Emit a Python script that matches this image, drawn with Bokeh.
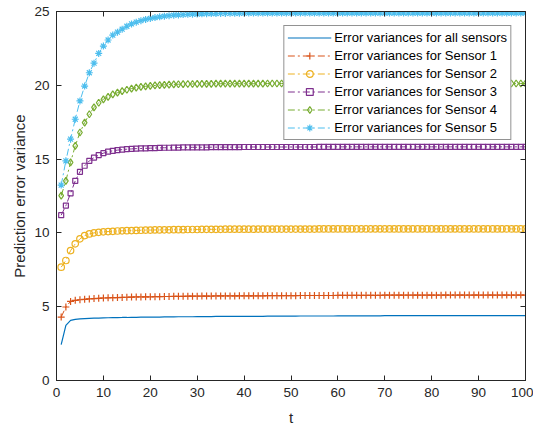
from bokeh.plotting import figure
from bokeh.models import LinearAxis, Legend, LegendItem, FixedTicker, Range1d
from bokeh.embed import file_html
from bokeh.resources import INLINE

t = list(range(1, 101))

all_sensors = [
    2.43, 3.74, 4.07, 4.14, 4.17, 4.19, 4.21, 4.22, 4.23, 4.24,
    4.25, 4.26, 4.26, 4.27, 4.27, 4.28, 4.28, 4.29, 4.29, 4.30,
    4.30, 4.30, 4.31, 4.31, 4.31, 4.32, 4.32, 4.32, 4.32, 4.33,
    4.33, 4.33, 4.33, 4.34, 4.34, 4.34, 4.34, 4.34, 4.35, 4.35,
    4.35, 4.35, 4.35, 4.35, 4.36, 4.36, 4.36, 4.36, 4.36, 4.36,
    4.36, 4.37, 4.37, 4.37, 4.37, 4.37, 4.37, 4.37, 4.37, 4.38,
    4.38, 4.38, 4.38, 4.38, 4.38, 4.38, 4.38, 4.38, 4.38, 4.39,
    4.39, 4.39, 4.39, 4.39, 4.39, 4.39, 4.39, 4.39, 4.39, 4.39,
    4.39, 4.39, 4.40, 4.40, 4.40, 4.40, 4.40, 4.40, 4.40, 4.40,
    4.40, 4.40, 4.40, 4.40, 4.40, 4.40, 4.40, 4.40, 4.40, 4.40,
]

sensor1 = [
    4.30, 4.98, 5.36, 5.43, 5.47, 5.50, 5.53, 5.55, 5.57, 5.59,
    5.60, 5.61, 5.62, 5.63, 5.64, 5.65, 5.66, 5.66, 5.67, 5.67,
    5.68, 5.68, 5.69, 5.69, 5.70, 5.70, 5.70, 5.71, 5.71, 5.71,
    5.72, 5.72, 5.72, 5.73, 5.73, 5.73, 5.73, 5.73, 5.74, 5.74,
    5.74, 5.74, 5.74, 5.74, 5.75, 5.75, 5.75, 5.75, 5.75, 5.75,
    5.75, 5.76, 5.76, 5.76, 5.76, 5.76, 5.76, 5.76, 5.76, 5.77,
    5.77, 5.77, 5.77, 5.77, 5.77, 5.77, 5.77, 5.77, 5.77, 5.78,
    5.78, 5.78, 5.78, 5.78, 5.78, 5.78, 5.78, 5.78, 5.78, 5.78,
    5.78, 5.78, 5.79, 5.79, 5.79, 5.79, 5.79, 5.79, 5.79, 5.79,
    5.79, 5.79, 5.79, 5.79, 5.79, 5.79, 5.79, 5.79, 5.79, 5.79,
]

sensor2 = [
    7.68, 8.13, 8.80, 9.26, 9.60, 9.82, 9.93, 10.00, 10.04, 10.07,
    10.09, 10.11, 10.13, 10.14, 10.15, 10.16, 10.17, 10.18, 10.19, 10.19,
    10.20, 10.20, 10.21, 10.21, 10.22, 10.22, 10.22, 10.23, 10.23, 10.23,
    10.24, 10.24, 10.24, 10.24, 10.24, 10.25, 10.25, 10.25, 10.25, 10.25,
    10.25, 10.25, 10.26, 10.26, 10.26, 10.26, 10.26, 10.26, 10.26, 10.26,
    10.26, 10.26, 10.26, 10.26, 10.26, 10.27, 10.27, 10.27, 10.27, 10.27,
    10.27, 10.27, 10.27, 10.27, 10.27, 10.27, 10.27, 10.27, 10.27, 10.27,
    10.27, 10.27, 10.27, 10.27, 10.27, 10.27, 10.27, 10.27, 10.27, 10.27,
    10.27, 10.27, 10.27, 10.27, 10.27, 10.27, 10.27, 10.27, 10.27, 10.27,
    10.27, 10.27, 10.27, 10.27, 10.27, 10.27, 10.27, 10.27, 10.27, 10.27,
]

sensor3 = [
    11.20, 11.85, 12.68, 13.53, 14.14, 14.55, 14.88, 15.10, 15.27, 15.40,
    15.50, 15.56, 15.61, 15.64, 15.67, 15.69, 15.71, 15.72, 15.73, 15.74,
    15.75, 15.76, 15.77, 15.77, 15.78, 15.78, 15.79, 15.79, 15.80, 15.80,
    15.80, 15.80, 15.81, 15.81, 15.81, 15.81, 15.81, 15.81, 15.81, 15.82,
    15.82, 15.82, 15.82, 15.82, 15.82, 15.82, 15.82, 15.82, 15.82, 15.82,
    15.82, 15.82, 15.82, 15.82, 15.82, 15.83, 15.83, 15.83, 15.83, 15.83,
    15.83, 15.83, 15.83, 15.83, 15.83, 15.83, 15.83, 15.83, 15.83, 15.83,
    15.83, 15.83, 15.83, 15.83, 15.83, 15.83, 15.83, 15.83, 15.83, 15.83,
    15.83, 15.83, 15.83, 15.83, 15.83, 15.83, 15.83, 15.83, 15.83, 15.83,
    15.83, 15.83, 15.83, 15.83, 15.83, 15.83, 15.83, 15.83, 15.83, 15.83,
]

sensor4 = [
    12.52, 13.53, 14.78, 15.90, 16.80, 17.47, 18.04, 18.50, 18.82, 19.05,
    19.22, 19.38, 19.50, 19.60, 19.70, 19.78, 19.84, 19.89, 19.93, 19.96,
    19.99, 20.01, 20.03, 20.05, 20.06, 20.07, 20.08, 20.09, 20.09, 20.10,
    20.10, 20.10, 20.10, 20.11, 20.11, 20.11, 20.11, 20.11, 20.11, 20.11,
    20.11, 20.11, 20.11, 20.11, 20.12, 20.12, 20.12, 20.12, 20.12, 20.12,
    20.12, 20.12, 20.12, 20.12, 20.12, 20.12, 20.12, 20.12, 20.12, 20.12,
    20.12, 20.12, 20.12, 20.12, 20.12, 20.12, 20.12, 20.12, 20.12, 20.12,
    20.12, 20.12, 20.12, 20.12, 20.12, 20.12, 20.12, 20.12, 20.12, 20.12,
    20.12, 20.12, 20.12, 20.12, 20.12, 20.12, 20.12, 20.12, 20.12, 20.12,
    20.12, 20.12, 20.12, 20.12, 20.12, 20.12, 20.12, 20.12, 20.12, 20.12,
]

sensor5 = [
    13.24, 14.88, 16.35, 17.70, 18.94, 19.95, 20.85, 21.50, 22.16, 22.66,
    23.07, 23.40, 23.60, 23.80, 24.00, 24.16, 24.28, 24.38, 24.46, 24.53,
    24.59, 24.64, 24.68, 24.72, 24.75, 24.77, 24.79, 24.81, 24.82, 24.83,
    24.84, 24.85, 24.86, 24.86, 24.87, 24.87, 24.88, 24.88, 24.88, 24.89,
    24.89, 24.89, 24.89, 24.89, 24.89, 24.89, 24.89, 24.89, 24.89, 24.89,
    24.89, 24.89, 24.89, 24.89, 24.89, 24.89, 24.89, 24.89, 24.89, 24.89,
    24.90, 24.90, 24.90, 24.90, 24.90, 24.90, 24.90, 24.90, 24.90, 24.90,
    24.90, 24.90, 24.90, 24.90, 24.90, 24.90, 24.90, 24.90, 24.90, 24.90,
    24.90, 24.90, 24.90, 24.90, 24.90, 24.90, 24.90, 24.90, 24.90, 24.90,
    24.90, 24.90, 24.90, 24.90, 24.90, 24.90, 24.90, 24.90, 24.90, 24.90,
]

labels = [
    "Error variances for all sensors",
    "Error variances for Sensor 1",
    "Error variances for Sensor 2",
    "Error variances for Sensor 3",
    "Error variances for Sensor 4",
    "Error variances for Sensor 5",
]
x_ticks = [0, 10, 20, 30, 40, 50, 60, 70, 80, 90, 100]
y_ticks = [0, 5, 10, 15, 20, 25]

colors = ["#0072BD", "#D95319", "#EDB120", "#7E2F8E", "#77AC30", "#4DBEEE"]
markers = [None, "cross", "circle", "square", "diamond", "asterisk"]
sizes = [0, 7, 6.5, 5, 7, 7]
series = [all_sensors, sensor1, sensor2, sensor3, sensor4, sensor5]

AX = "#262626"
FONT = "Liberation Sans"

p = figure(frame_width=469, frame_height=369,
           output_backend="svg", toolbar_location=None,
           x_range=Range1d(0, 100), y_range=Range1d(0, 25),
           min_border_left=56, min_border_right=8,
           min_border_top=11, min_border_bottom=40)
p.background_fill_color = "white"
p.border_fill_color = "white"
p.outline_line_color = AX
p.outline_line_width = 1
p.xgrid.visible = False
p.ygrid.visible = False

def style_axis(ax, ticks, show_labels):
    ax.ticker = FixedTicker(ticks=ticks)
    ax.minor_tick_line_color = None
    ax.major_tick_in = 5
    ax.major_tick_out = 0
    ax.axis_line_color = AX
    ax.major_tick_line_color = AX
    ax.major_label_text_color = AX
    ax.major_label_text_font = FONT
    ax.major_label_text_font_size = "13.5px"
    ax.axis_label_text_font = FONT
    ax.axis_label_text_font_size = "15px"
    ax.axis_label_text_font_style = "normal"
    ax.axis_label_text_color = AX
    if show_labels:
        ax.major_label_standoff = 7
    else:
        ax.major_label_standoff = 0
        ax.major_label_overrides = {k: "" for k in ticks}

style_axis(p.xaxis[0], x_ticks, True)
style_axis(p.yaxis[0], y_ticks, True)
p.xaxis[0].axis_label = "t"
p.xaxis[0].axis_label_standoff = 9
p.yaxis[0].axis_label = "Prediction error variance"
p.yaxis[0].axis_label_standoff = 3

top = LinearAxis()
style_axis(top, x_ticks, False)
p.add_layout(top, "above")
right = LinearAxis()
style_axis(right, y_ticks, False)
p.add_layout(right, "right")

items = []
for ys, c, m, s, lab in zip(series, colors, markers, sizes, labels):
    if m is None:
        r = p.line(t, ys, line_color=c, line_width=1.2)
        items.append(LegendItem(label=lab, renderers=[r]))
    else:
        r1 = p.line(t, ys, line_color=c, line_width=1, line_dash="7 3 2 3")
        r2 = p.scatter(t, ys, marker=m, size=s, line_color=c, fill_color=None, line_width=1.2)
        items.append(LegendItem(label=lab, renderers=[r1, r2]))

legend = Legend(items=items, location="top_right")
legend.margin = 14
legend.padding = 3
legend.spacing = 1
legend.label_height = 17
legend.glyph_height = 17
legend.glyph_width = 44
legend.label_standoff = 3
legend.label_text_font = FONT
legend.label_text_font_size = "13px"
legend.label_text_color = "black"
legend.border_line_color = AX
legend.border_line_width = 1
legend.background_fill_color = "white"
legend.background_fill_alpha = 1
p.add_layout(legend, "center")

open("out.html", "w").write(file_html(p, INLINE))
